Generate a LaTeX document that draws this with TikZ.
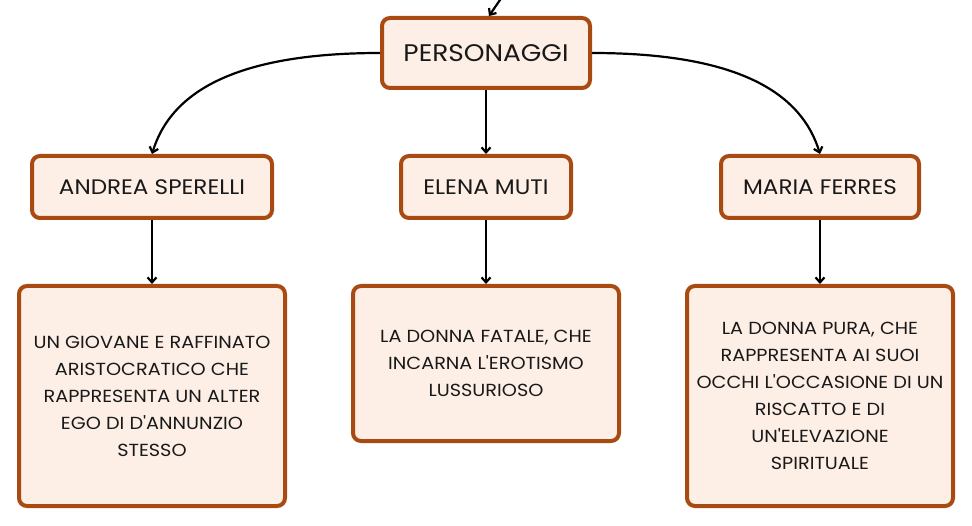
\documentclass[tikz,border=0pt]{standalone}
\usepackage{fontspec}
\setmainfont[FakeStretch=1.1, Ligatures=TeXOff]{Poppins}
\usepackage{tikz}
\usetikzlibrary{positioning, arrows.meta, calc}

\definecolor{boxfill}{HTML}{FDEFE6}
\definecolor{boxline}{HTML}{A84A12}

\begin{document}
\begin{tikzpicture}[x=1pt, y=-1pt,
	box/.style={draw=boxline, fill=boxfill, line width=4pt, rounded corners=8pt, inner sep=0pt, text=black!90},
	title/.style={box, font=\fontsize{21}{24}\selectfont},
	desc/.style={box, align=center, font=\fontsize{17.5}{27}\selectfont},
	link/.style={line width=2.2pt, -{Straight Barb[length=5pt, width=9pt]}}]
			
			\useasboundingbox (0,0) rectangle (972,526);
			
			\def\wbox{266}
			
			\node[title, font=\fontsize{24}{28}\selectfont, minimum width=208pt, minimum height=70pt] (pers) at (486,53) {PERSONAGGI};
			\coordinate (top) at (502,-3);
			
			\node[title, minimum width=240pt, minimum height=62pt] (andrea) at (152,187) {ANDREA SPERELLI};
			\node[title, minimum width=170pt, minimum height=62pt] (elena) at (486,187) {ELENA MUTI};
			\node[title, minimum width=198pt, minimum height=62pt] (maria) at (820,187) {MARIA FERRES};
			
			\node[desc, minimum width=\wbox pt, minimum height=220pt] (dandrea) at (152,396) {UN GIOVANE E RAFFINATO\\ARISTOCRATICO CHE\\RAPPRESENTA UN ALTER\\EGO DI D'ANNUNZIO\\STESSO};
			\node[desc, minimum width=\wbox pt, minimum height=155pt] (delena) at (486,363.5) {LA DONNA FATALE, CHE\\INCARNA L'EROTISMO\\LUSSURIOSO};
			\node[desc, minimum width=\wbox pt, minimum height=220pt] (dmaria) at (820,396) {LA DONNA PURA, CHE\\RAPPRESENTA AI SUOI\\OCCHI L'OCCASIONE DI UN\\RISCATTO E DI\\UN'ELEVAZIONE\\SPIRITUALE};
			
			\draw[link] (top) -- (pers.north -| 489,0);
			\draw[link] (pers.west) .. controls (230,53) and (170,95) .. (andrea.north);
			\draw[link] (pers.south) -- (elena.north);
			\draw[link] (pers.east) .. controls (742,53) and (802,95) .. (maria.north);
			
			\foreach \a/\b in {andrea/dandrea, elena/delena, maria/dmaria}
			\draw[link] (\a.south) -- (\b.north);
			\end{tikzpicture}
\end{document}
